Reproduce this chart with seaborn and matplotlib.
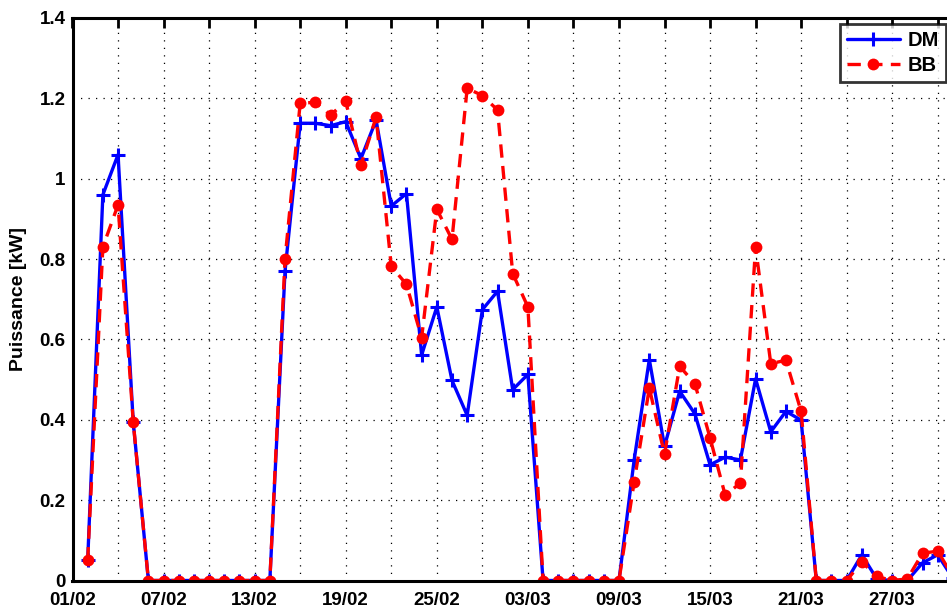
import numpy as np
import pandas as pd
import matplotlib
matplotlib.use("Agg")
import matplotlib.pyplot as plt
import seaborn as sns

# daily values, 02/02 -> 31/03 (non-leap year)
start_date = "2015-02-02"
dm = [0.05, 0.96, 1.06, 0.395,
      0, 0, 0, 0, 0, 0, 0, 0, 0,
      0.77, 1.138, 1.138, 1.132, 1.142, 1.05, 1.146, 0.932, 0.963, 0.561,
      0.681, 0.498, 0.411, 0.674, 0.72, 0.475, 0.513,
      0, 0, 0, 0, 0, 0,
      0.30, 0.55, 0.334, 0.471, 0.415, 0.288, 0.307, 0.30, 0.502, 0.37,
      0.421, 0.399,
      0, 0, 0,
      0.064, 0.003, 0, 0, 0.044, 0.064, 0.005]
bb = [0.05, 0.83, 0.935, 0.395,
      0, 0, 0, 0, 0, 0, 0, 0, 0,
      0.80, 1.188, 1.19, 1.158, 1.193, 1.034, 1.153, 0.782, 0.737, 0.604,
      0.924, 0.849, 1.225, 1.207, 1.171, 0.764, 0.681,
      0, 0, 0, 0, 0, 0,
      0.245, 0.479, 0.314, 0.533, 0.49, 0.355, 0.212, 0.243, 0.83, 0.54,
      0.548, 0.421,
      0, 0, 0,
      0.046, 0.01, 0, 0.004, 0.068, 0.073, 0.01]
yticks = [0, 0.2, 0.4, 0.6, 0.8, 1.0, 1.2, 1.4]
ytick_labels = ["0", "0.2", "0.4", "0.6", "0.8", "1", "1.2", "1.4"]

dates = pd.date_range(start_date, periods=len(dm), freq="D")
df = pd.DataFrame({"date": dates, "DM": dm, "BB": bb})

sns.set_theme(style="white")
plt.rcParams["font.family"] = ["Liberation Sans", "DejaVu Sans"]
plt.rcParams["font.weight"] = "bold"

fig = plt.figure(figsize=(9.47, 6.11), dpi=100)
# axes run past the right edge of the figure, like the cropped original
ax = fig.add_axes([72.5 / 947, 1 - 580.5 / 611, 895.6 / 947, 562.5 / 611])

sns.lineplot(data=df, x="date", y="DM", ax=ax, color="blue", lw=2.4,
             marker="+", markersize=10, markeredgewidth=2.2,
             markeredgecolor="blue", label="DM")
sns.lineplot(data=df, x="date", y="BB", ax=ax, color="red", lw=2.4,
             linestyle=(0, (4, 2.5)), marker="o", markersize=8.5,
             markeredgewidth=0, markerfacecolor="red", label="BB")

x0 = pd.Timestamp("2015-02-01")
ax.set_xlim(x0, pd.Timestamp("2015-04-01"))
ax.set_ylim(0, 1.4)

tick_dates = pd.date_range(x0, periods=20, freq="3D")
ax.set_xticks(tick_dates)
ax.set_xticklabels([d.strftime("%d/%m") if i % 2 == 0 else ""
                    for i, d in enumerate(tick_dates)])
ax.set_yticks(yticks)
ax.set_yticklabels(ytick_labels)

ax.tick_params(direction="in", length=7, width=2, top=True, right=True,
               labelsize=13.5, colors="black")
ax.tick_params(axis="x", pad=8)
ax.tick_params(axis="y", pad=5)
for lbl in ax.get_xticklabels() + ax.get_yticklabels():
    lbl.set_fontweight("bold")

ax.grid(True, color="black", linestyle=(0, (1, 5)), linewidth=0.9)
for s in ax.spines.values():
    s.set_linewidth(2.2)
    s.set_color("black")

ax.set_xlabel("")
ax.set_ylabel("Puissance [kW]", fontsize=14, fontweight="bold",
              color="black", labelpad=9)

leg = ax.legend(loc="upper right", bbox_to_anchor=(946 / 947, 1 - 24 / 611),
                bbox_transform=fig.transFigure, frameon=True, fancybox=False,
                fontsize=14.5, handlelength=2.6, borderpad=0.35,
                labelspacing=0.3, handletextpad=0.4, borderaxespad=0)
leg.get_frame().set_edgecolor("black")
leg.get_frame().set_linewidth(2)
for t in leg.get_texts():
    t.set_fontweight("bold")
    t.set_color("black")

fig.savefig("out.png", dpi=100)
